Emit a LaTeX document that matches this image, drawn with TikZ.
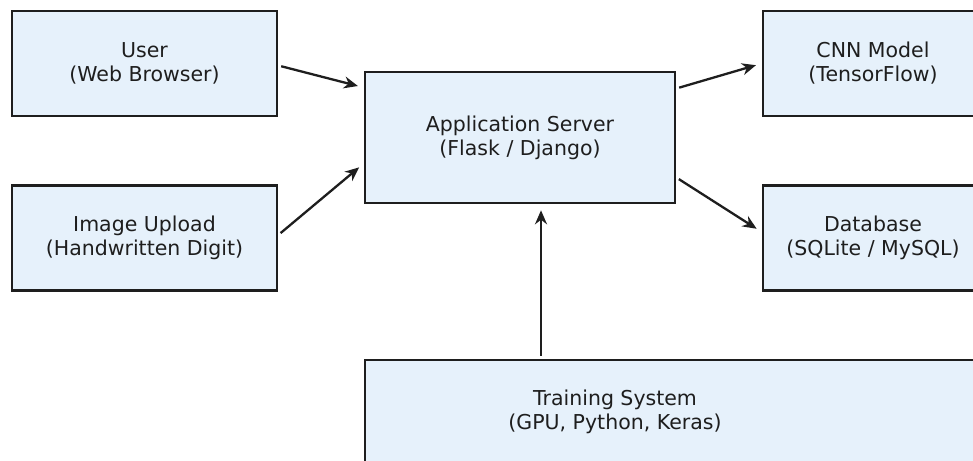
\documentclass[tikz,border=0pt]{standalone}
\usepackage{fontspec}
\setmainfont{DejaVu Sans}
\usepackage{tikz}
\usetikzlibrary{positioning, arrows.meta}

\definecolor{boxfill}{HTML}{E6F1FB}
\definecolor{ink}{HTML}{1E1E1E}

\tikzset{
    block/.style={draw=ink, fill=boxfill, line width=2.6pt, inner sep=0pt,
        minimum width=265pt, minimum height=105pt, align=center},
    lbl/.style={align=center, text=ink,
        font=\fontsize{20.5}{24}\selectfont},
}

\begin{document}
\begin{tikzpicture}[x=1pt, y=1pt, node distance=100pt, on grid,
        >={Stealth[length=14pt, width=12pt]}]
        \path[use as bounding box, clip] (0,0) rectangle (973,-460);

        \node[block, lbl] (user) at (144.5,-63.5) {User\\(Web Browser)};
        \node[block, lbl] (upload) [below=174.5pt of user] {Image Upload\\(Handwritten Digit)};
        \node[block, lbl, minimum width=310pt, minimum height=131pt] (app)
            [below right=74pt and 375.5pt of user] {Application Server\\(Flask / Django)};
        \node[block, lbl, minimum width=220pt] (cnn) [right=728.5pt of user] {CNN Model\\(TensorFlow)};
        \node[block, lbl, minimum width=220pt] (db) [below=174.5pt of cnn] {Database\\(SQLite / MySQL)};
        \node[block, minimum width=640pt, minimum height=104pt] (train)
            [below right=348.5pt and 540.5pt of user] {};
        \node[lbl] (trainlbl) [left=70pt of train] {Training System\\(GPU, Python, Keras)};

        \path[->, ink, line width=2.3pt, shorten >=6pt, shorten <=3pt]
        ([yshift=-2pt]user.east) edge ([yshift=50pt]app.west)
        ([yshift=3pt]upload.east) edge ([yshift=-26pt]app.west)
        ([yshift=49pt]app.east) edge (cnn.west)
        ([yshift=-40pt]app.east) edge ([yshift=6pt]db.west)
        ([xshift=21pt]app.south |- train.north) edge ([xshift=21pt]app.south);
    \end{tikzpicture}
\end{document}
